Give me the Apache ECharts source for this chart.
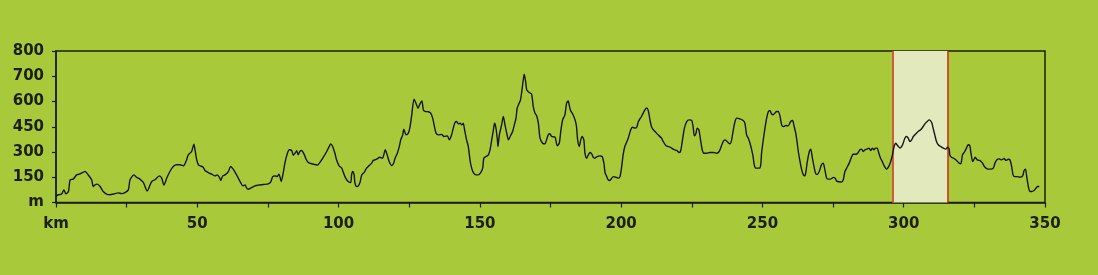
<!DOCTYPE html>
<html>
<head>
<meta charset="utf-8">
<script src="https://cdn.jsdelivr.net/npm/echarts@6/dist/echarts.min.js"></script>
<style>
html,body{margin:0;padding:0;background:#a8c93a;}
#chart{width:1098px;height:275px;}
</style>
</head>
<body>
<div id="chart"></div>
<script>
// Elevation profile: distance (km) and elevation (m, read on the chart's evenly spaced scale)
const distanceKm = [
  0,0.8,2.0,2.8,3.5,4.4,5.0,6.1,7.3,8.5,10.3,11.4,12.6,13.2,13.8,14.6,15.6,16.7,17.9,19.1,
  20.9,22.1,23.2,24.4,25.6,26.2,27.6,28.5,29.7,30.9,32.3,33.3,33.9,35.0,36.6,37.4,38.2,39.2,40.3,41.5,
  42.7,43.9,45.1,46.2,46.8,48.0,48.8,49.2,49.8,50.4,
  51.0,52.1,52.7,53.9,55.1,56.3,57.1,57.8,58.3,59.0,59.8,61.0,61.8,62.7,63.7,64.5,65.3,66.1,66.9,67.5,
  68.0,69.2,70.4,71.6,73.4,75.1,76.0,76.7,77.5,78.3,78.9,79.3,79.7,80.4,81.0,81.9,82.6,83.4,84.0,84.6,
  85.2,85.7,86.3,86.9,87.8,88.5,89.3,90.5,91.7,92.5,93.4,94.6,95.8,96.7,97.2,97.9,98.7,99.3,100.2,101.1,
  101.7,102.5,103.4,104.3,104.6,105.0,105.5,105.8,106.4,107.0,107.6,
  108.2,109.0,109.9,110.5,111.7,112.3,113.5,114.6,115.5,116.1,116.5,117.2,117.9,118.8,119.4,120.0,120.8,121.5,122.0,122.7,
  123.1,123.9,124.7,125.3,125.9,126.7,127.4,128.1,128.8,129.5,130.0,130.6,131.8,132.6,133.3,133.8,134.5,135.3,136.5,137.3,
  138.5,139.2,140.0,140.6,141.2,141.8,142.4,143.0,143.6,144.1,144.7,145.3,145.9,146.5,147.1,147.7,148.6,149.4,150.3,151.0,
  151.4,152.2,153.0,153.6,154.2,154.8,155.2,155.7,156.2,156.4,156.9,157.7,158.3,158.9,159.5,160.1,160.7,161.6,162.2,162.8,
  163.2,163.9,164.4,164.9,165.4,165.7,166.2,166.6,167.5,168.3,168.9,169.5,170.1,170.7,
  171.3,172.2,173.0,173.6,174.2,174.8,175.4,176.6,177.4,178.1,178.7,179.3,180.1,180.7,181.3,181.6,182.1,182.8,183.7,184.2,
  184.6,185.2,185.7,186.2,186.8,187.2,187.8,188.4,189.0,189.6,190.1,190.7,191.5,192.5,193.3,193.9,194.3,194.9,195.4,196.0,
  196.6,197.2,198.2,199.0,199.6,200.2,200.7,201.3,201.9,202.5,203.4,204.0,204.9,205.5,206.1,206.6,207.2,207.8,208.4,209.0,
  209.6,210.2,210.8,211.4,212.3,213.1,214.3,214.9,215.9,217.3,218.4,219.6,220.6,221.1,221.8,222.4,223.2,224.1,225.0,225.5,
  225.9,226.5,226.9,227.5,228.1,228.7,229.3,230.2,231.4,232.6,233.8,234.7,
  235.5,236.1,236.7,237.5,238.5,239.1,239.7,240.3,240.9,242.0,243.2,243.8,244.4,245.0,245.6,246.2,246.7,247.1,247.7,248.9,
  249.4,249.7,250.3,250.9,251.5,252.1,252.7,253.2,253.8,254.4,255.0,255.6,256.2,256.8,257.4,258.3,259.1,260.0,260.7,261.1,
  261.9,262.7,263.3,263.9,264.5,265.0,265.4,265.9,266.6,267.1,267.6,268.2,268.8,269.4,270.1,270.9,271.5,272.1,272.7,273.3,
  274.1,275.1,275.7,276.3,277.2,278.0,278.6,279.2,279.8,280.7,281.6,282.1,283.1,283.7,284.5,285.1,285.7,286.3,286.9,287.7,
  288.3,288.9,289.5,290.0,290.6,291.2,291.8,292.4,293.1,293.9,294.8,295.4,296.0,296.6,297.2,297.9,298.7,
  299.3,299.8,300.4,301.0,301.6,302.2,302.8,303.4,304.3,305.1,306.0,306.7,307.5,308.3,309.0,309.9,310.4,311.0,311.6,312.2,
  313.0,314.0,314.9,315.5,316.1,316.3,316.9,317.7,318.7,319.6,320.2,320.8,321.6,322.2,322.8,323.4,323.8,324.4,324.8,325.3,
  326.0,326.9,327.9,328.4,329.1,329.9,330.7,331.7,332.3,332.9,333.8,334.6,335.5,336.2,337.0,337.6,338.2,338.7,339.3,340.2,
  341.1,342.1,342.6,343.1,343.5,344.1,344.7,345.3,346.1,346.8,347.4,348.0
];
const elevationM = [
  36,46,51,75,51,65,135,139,164,170,184,164,135,95,105,109,95,65,50,46,
  53,57,53,59,75,135,164,150,139,119,69,105,125,135,158,145,103,145,184,214,
  224,224,218,253,283,303,347,313,253,224,
  218,210,190,178,168,158,164,150,131,158,164,184,214,198,170,145,119,99,105,85,
  79,89,99,103,107,111,123,154,158,154,168,150,125,174,234,293,313,309,281,293,
  307,283,303,309,287,257,238,230,226,222,238,269,303,333,348,333,293,253,218,204,
  178,145,125,119,164,184,164,115,95,99,120,
  164,178,204,214,234,250,257,269,263,289,313,283,244,220,230,263,293,333,372,402,
  436,402,412,451,521,614,590,560,586,604,550,541,539,531,501,461,412,402,404,392,
  396,372,402,442,475,481,467,471,461,471,422,372,333,253,204,178,164,164,178,204,
  263,273,283,313,372,432,471,442,372,333,402,461,511,461,412,372,392,422,461,501,
  560,590,610,669,733,762,719,669,653,645,570,531,515,471,
  382,352,348,372,402,408,392,388,337,352,432,491,521,590,604,580,546,527,491,451,
  372,333,372,392,372,293,263,283,297,289,269,263,273,277,273,234,178,154,135,131,
  143,154,150,145,154,214,283,333,356,382,432,447,442,447,481,495,511,531,550,562,
  546,491,447,432,416,402,382,362,337,329,317,309,297,309,382,442,481,491,487,447,
  396,412,442,432,372,313,293,293,297,297,293,303,
  337,362,372,362,348,372,432,481,501,497,487,471,402,382,352,313,273,224,204,204,
  224,293,372,442,501,541,546,527,521,531,541,541,515,461,451,457,455,481,487,461,
  402,303,244,194,164,158,184,244,303,317,273,218,174,166,184,224,234,194,145,139,
  139,149,145,127,123,121,135,184,204,234,273,287,287,293,313,317,303,313,317,323,
  309,323,313,323,323,293,263,244,218,198,218,244,283,333,352,337,323,
  333,352,382,392,382,362,372,392,408,422,432,447,467,481,491,475,442,402,362,343,
  333,323,317,329,317,283,269,263,250,234,230,283,303,323,343,337,293,244,253,269,
  253,250,234,218,204,198,198,204,234,253,259,253,261,250,257,253,214,164,154,154,
  150,158,190,198,158,95,65,65,71,85,95,95
];
// Tick labels
const xTickValues = [0, 50, 100, 150, 200, 250, 300, 350];
const xTickLabels = ['km', '50', '100', '150', '200', '250', '300', '350'];
const yTickLabels = ['m', '150', '300', '450', '600', '700', '800'];
// Highlighted stage (km)
const highlightKm = [296, 315.5];

const ink = '#1c1f14';
const fontFamily = 'DejaVu Sans';
const profile = distanceKm.map((d, i) => [d, elevationM[i]]);

const chart = echarts.init(document.getElementById('chart'), null, {renderer: 'canvas'});
chart.setOption({
  backgroundColor: '#a8c93a',
  animation: false,
  grid: {
    left: 56, right: 53, top: 51, bottom: 72.5,
    show: true, borderColor: ink, borderWidth: 1.5, backgroundColor: 'transparent'
  },
  xAxis: {
    type: 'value', min: 0, max: 350, interval: 25,
    axisLine: {show: true, lineStyle: {color: ink, width: 1.5}},
    axisTick: {show: true, length: 5, lineStyle: {color: ink, width: 1.2}},
    splitLine: {show: false},
    axisLabel: {
      color: ink, fontSize: 15, fontWeight: 'bold', fontFamily: fontFamily, margin: 14,
      showMinLabel: true, showMaxLabel: true,
      formatter: function (v) {
        const i = xTickValues.indexOf(Math.round(v));
        return i >= 0 ? xTickLabels[i] : '';
      }
    }
  },
  yAxis: {
    type: 'value', min: 0, max: 900, interval: 150,
    axisLine: {show: true, lineStyle: {color: ink, width: 1.5}},
    axisTick: {show: true, length: 4, lineStyle: {color: ink, width: 1.2}},
    splitLine: {show: false},
    axisLabel: {
      color: ink, fontSize: 15, fontWeight: 'bold', fontFamily: fontFamily, margin: 12,
      showMinLabel: true, showMaxLabel: true,
      formatter: function (v) {
        const i = Math.round(v / 150);
        return yTickLabels[i] !== undefined ? yTickLabels[i] : '';
      }
    }
  },
  series: [{
    type: 'line',
    data: profile,
    smooth: 0.25,
    showSymbol: false,
    symbol: 'none',
    z: 5,
    lineStyle: {color: '#161616', width: 1.4},
    markArea: {
      silent: true,
      itemStyle: {color: '#e2e9bd'},
      data: [[{xAxis: highlightKm[0]}, {xAxis: highlightKm[1]}]]
    },
    markLine: {
      silent: true,
      symbol: ['none', 'none'],
      label: {show: false},
      lineStyle: {color: '#d02a1c', width: 1.5, type: 'solid'},
      data: [{xAxis: highlightKm[0]}, {xAxis: highlightKm[1]}]
    }
  }]
});
</script>
</body>
</html>
